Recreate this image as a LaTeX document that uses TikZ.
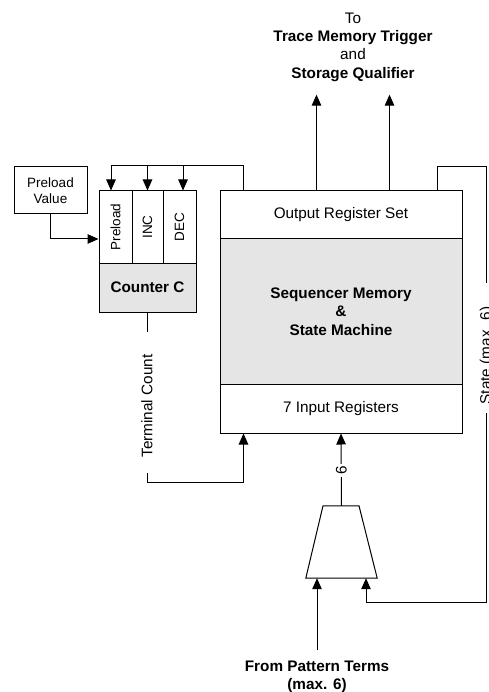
\documentclass[tikz,border=0pt]{standalone}
\usepackage{fontspec}
\setmainfont{Liberation Sans}
\usepackage{graphicx}
\usetikzlibrary{arrows.meta,calc}

\tikzset{
  big/.style={font=\fontsize{15.3}{18.4}\selectfont},
  small/.style={font=\fontsize{13.5}{16}\selectfont},
  blk/.style={draw, line width=1pt, rectangle, inner sep=0pt, align=center, big},
  shaded/.style={blk, fill=black!10},
  cell/.style={draw, line width=1pt, rectangle, inner sep=0pt, small,
    minimum height=72, anchor=center},
  wire/.style={line width=1pt},
  arr/.style={wire, -{Triangle[length=11pt,width=9.5pt]}},
  lbl/.style={inner sep=0pt, big},
}

\begin{document}
\begin{tikzpicture}[x=1pt, y=-1pt]
\useasboundingbox (0,0) rectangle (488,692);

% sequencer block
\node[blk, minimum width=242, minimum height=48] (outreg) at (341,215) {Output Register Set};
\node[shaded, minimum width=242, minimum height=145, font=\bfseries\fontsize{15.3}{18.5}\selectfont]
  (seq) at (341,311.5) {Sequencer Memory\\\&\\State Machine};
\node[blk, minimum width=242, minimum height=49] (inreg) at (341,408.5) {7 Input Registers};

% counter C with its three control inputs
\node[cell, minimum width=33] (pre) at (115.5,227) {\rotatebox{90}{Preload}};
\node[cell, minimum width=31] (inc) at (147.5,227) {\rotatebox{90}{INC}};
\node[cell, minimum width=33] (dec) at (179.5,227) {\rotatebox{90}{DEC}};
\node[shaded, minimum width=97, minimum height=49, font=\bfseries\fontsize{15.3}{18}\selectfont]
  (cnt) at (147.5,287.5) {Counter C};

% preload value
\node[blk, small, minimum width=73, minimum height=47] (pv) at (50.5,190.5) {Preload\\Value};

% input multiplexer: a trapezium, narrow side up, with a frame node for its anchors
\node[rectangle, minimum width=71, minimum height=72, inner sep=0pt] (mux) at (341.5,542) {};
\draw[wire, line join=miter] ([xshift=-18.5pt]mux.north) -- ([xshift=17.5pt]mux.north)
  -- (mux.south east) -- (mux.south west) -- cycle;

% texts
\node[lbl, align=center, font=\fontsize{15.3}{18.33}\selectfont, inner sep=3pt] (dest) at (353,47.1)
  {To\\\textbf{Trace Memory Trigger}\\and\\\textbf{Storage Qualifier}};
\node[lbl, align=center, font=\bfseries\fontsize{15.3}{17.8}\selectfont, anchor=north, inner ysep=10.6pt]
  (pat) at (317,650) {From Pattern Terms\\(max. 6)};
\node[lbl] (tc) at (147,406) {\rotatebox{90}{Terminal Count}};
\node[lbl] (st) at (487,355.5) {\rotatebox{90}{State (max. 6)}};

% output arrows
\coordinate (o1) at ([xshift=97pt]outreg.north west);
\coordinate (o2) at ([xshift=170pt]outreg.north west);
\draw[arr, shorten >=10pt] (o1) -- (o1 |- dest.south);
\draw[arr, shorten >=10pt] (o2) -- (o2 |- dest.south);

% feedback from the output registers to the counter controls
\coordinate (fbL) at ([xshift=24pt]outreg.north west);
\coordinate (preIn) at ([xshift=-4.5pt]pre.north);
\coordinate (decIn) at ([xshift=3.5pt]dec.north);
\coordinate (busL) at (111,166);
\draw[arr] (fbL) |- (busL) -- (preIn);
\draw[arr] (inc.north |- busL) -- (inc.north);
\draw[arr] (decIn |- busL) -- (decIn);

% preload value into the counter
\coordinate (pvIn) at ([yshift=-12pt]pre.west);
\draw[arr] (pv.south) |- (pvIn);

% terminal count into the input registers
\coordinate (tcA) at (147.5,332);
\coordinate (tcB) at (147.5,473);
\coordinate (tcC) at (147.5,482);
\coordinate (tcIn) at ([xshift=24pt]inreg.south west);
\draw[wire] (cnt.south) -- (tcA);
\draw[arr] (tcB) -- (tcC) -| (tcIn);

% state loop back to the multiplexer
\coordinate (stOut) at ([xshift=218pt]outreg.north west);
\coordinate (stR) at (486,167);
\coordinate (stA) at (486,283);
\coordinate (stB) at (486,413);
\coordinate (stC) at (486,602);
\coordinate (muxR) at ([xshift=24.5pt]mux.south);
\coordinate (muxL) at ([xshift=-24.5pt]mux.south);
\draw[wire] (stOut) |- (stR) -- (stA);
\draw[arr] (stB) -- (stC) -| (muxR);

% pattern terms into the multiplexer
\draw[arr] (pat.north) -- (muxL);

% multiplexer output, 6 bits wide
\draw[arr] (mux.north) -- node[pos=0.486, fill=white, inner sep=2pt, big] {\rotatebox{90}{6}} (inreg.south);
\end{tikzpicture}
\end{document}
